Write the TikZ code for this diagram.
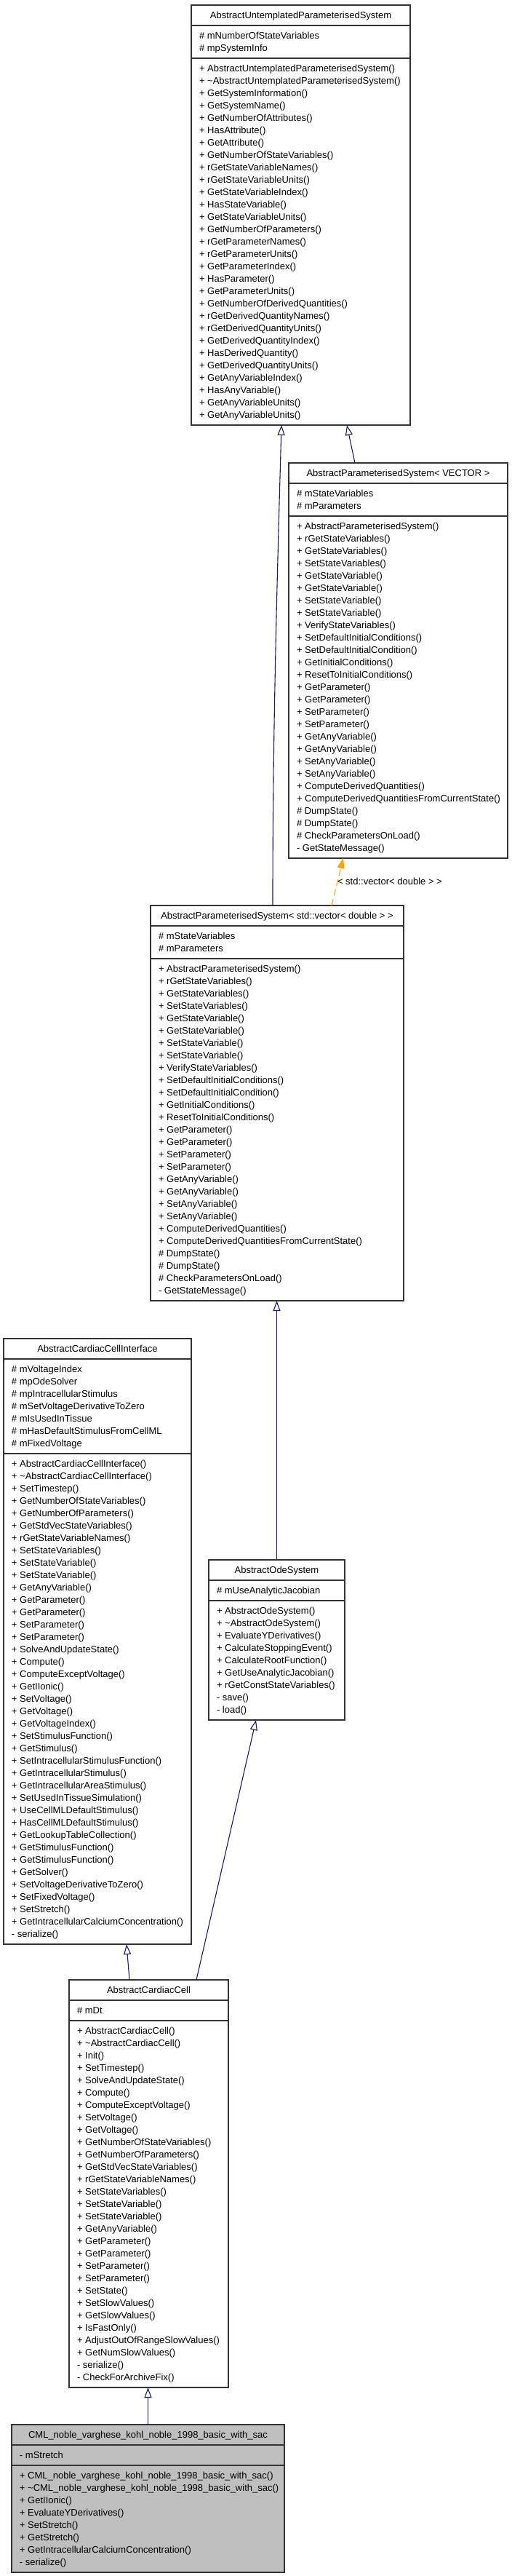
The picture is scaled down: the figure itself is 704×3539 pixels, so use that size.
\documentclass[tikz,border=0pt]{standalone}
\usepackage{fontspec}
\setmainfont{Liberation Sans}
\usetikzlibrary{calc,arrows.meta}
\definecolor{edgeblue}{HTML}{191970}
\definecolor{tmplorange}{HTML}{FFA500}
\definecolor{nodegray}{HTML}{BFBFBF}
\newcount\umlna
\newcount\umlnm
\newcommand{\umlcount}[2]{\global#1=0\relax\foreach \umlitem in {#2}{\global\advance#1 by 1\relax}}
\newcommand{\umlbox}[8]{%
  \umlcount\umlna{#7}\umlcount\umlnm{#8}%
  \pgfmathsetmacro\umlha{17*\the\umlna+11}%
  \pgfmathsetmacro\umlhm{17*\the\umlnm+11}%
  \pgfmathsetmacro\umlh{28+\umlha+\umlhm}%
  \node[umlframe, fill=#5, minimum width=#4pt, minimum height=\umlh pt, anchor=north west] (#1) at (#2,#3) {};
  \draw[umlrule] ($(#1.north west)+(0,28)$) -- ($(#1.north east)+(0,28)$);
  \draw[umlrule] ($(#1.north west)+(0,{28+\umlha})$) -- ($(#1.north east)+(0,{28+\umlha})$);
  \node[umltext, anchor=base] (#1-title) at ($(#1.north)+(0,18)$) {#6};
  \foreach \umlitem [count=\k from 0] in {#7} {\node[umltext, anchor=base west] (#1-a\k) at ($(#1.north west)+(11,{46+17*\k})$) {\umlitem};}
  \foreach \umlitem [count=\k from 0] in {#8} {\node[umltext, anchor=base west] (#1-m\k) at ($(#1.north west)+(11,{46+\umlha+17*\k})$) {\umlitem};}
}
\tikzset{
  umlframe/.style={rectangle, draw=black!80, line width=1.2pt, inner sep=0pt, outer sep=0pt},
  umlrule/.style={draw=black!80, line width=1.2pt},
  umltext/.style={inner sep=0pt, outer sep=0pt, font=\fontsize{13}{17}\selectfont, text=black},
  inh/.style={draw=edgeblue, line width=1.1pt, -{Triangle[open, length=14pt, width=10pt]}},
  tmpl/.style={draw=tmplorange, line width=1.1pt, dash pattern=on 9pt off 5pt, -{Triangle[length=14pt, width=10pt, fill=tmplorange]}}
}
\begin{document}
\begin{tikzpicture}[x=1pt,y=-1pt]
\fill[white] (0,0) rectangle (704,3539);
\useasboundingbox (0,0) rectangle (704,3539);

\umlbox{A}{263}{7}{301}{white}{AbstractUntemplatedParameterisedSystem}{%
\# mNumberOfStateVariables,%
\# mpSystemInfo}{%
+ AbstractUntemplatedParameterisedSystem(),%
+ \textasciitilde AbstractUntemplatedParameterisedSystem(),%
+ GetSystemInformation(),%
+ GetSystemName(),%
+ GetNumberOfAttributes(),%
+ HasAttribute(),%
+ GetAttribute(),%
+ GetNumberOfStateVariables(),%
+ rGetStateVariableNames(),%
+ rGetStateVariableUnits(),%
+ GetStateVariableIndex(),%
+ HasStateVariable(),%
+ GetStateVariableUnits(),%
+ GetNumberOfParameters(),%
+ rGetParameterNames(),%
+ rGetParameterUnits(),%
+ GetParameterIndex(),%
+ HasParameter(),%
+ GetParameterUnits(),%
+ GetNumberOfDerivedQuantities(),%
+ rGetDerivedQuantityNames(),%
+ rGetDerivedQuantityUnits(),%
+ GetDerivedQuantityIndex(),%
+ HasDerivedQuantity(),%
+ GetDerivedQuantityUnits(),%
+ GetAnyVariableIndex(),%
+ HasAnyVariable(),%
+ GetAnyVariableUnits(),%
+ GetAnyVariableUnits()}

\umlbox{B}{397}{636}{301}{white}{AbstractParameterisedSystem< VECTOR >}{%
\# mStateVariables,%
\# mParameters}{%
+ AbstractParameterisedSystem(),%
+ rGetStateVariables(),%
+ GetStateVariables(),%
+ SetStateVariables(),%
+ GetStateVariable(),%
+ GetStateVariable(),%
+ SetStateVariable(),%
+ SetStateVariable(),%
+ VerifyStateVariables(),%
+ SetDefaultInitialConditions(),%
+ SetDefaultInitialCondition(),%
+ GetInitialConditions(),%
+ ResetToInitialConditions(),%
+ GetParameter(),%
+ GetParameter(),%
+ SetParameter(),%
+ SetParameter(),%
+ GetAnyVariable(),%
+ GetAnyVariable(),%
+ SetAnyVariable(),%
+ SetAnyVariable(),%
+ ComputeDerivedQuantities(),%
+ ComputeDerivedQuantitiesFromCurrentState(),%
\# DumpState(),%
\# DumpState(),%
\# CheckParametersOnLoad(),%
- GetStateMessage()}

\umlbox{C}{207}{1244}{348}{white}{AbstractParameterisedSystem< std::vector< double > >}{%
\# mStateVariables,%
\# mParameters}{%
+ AbstractParameterisedSystem(),%
+ rGetStateVariables(),%
+ GetStateVariables(),%
+ SetStateVariables(),%
+ GetStateVariable(),%
+ GetStateVariable(),%
+ SetStateVariable(),%
+ SetStateVariable(),%
+ VerifyStateVariables(),%
+ SetDefaultInitialConditions(),%
+ SetDefaultInitialCondition(),%
+ GetInitialConditions(),%
+ ResetToInitialConditions(),%
+ GetParameter(),%
+ GetParameter(),%
+ SetParameter(),%
+ SetParameter(),%
+ GetAnyVariable(),%
+ GetAnyVariable(),%
+ SetAnyVariable(),%
+ SetAnyVariable(),%
+ ComputeDerivedQuantities(),%
+ ComputeDerivedQuantitiesFromCurrentState(),%
\# DumpState(),%
\# DumpState(),%
\# CheckParametersOnLoad(),%
- GetStateMessage()}

\umlbox{D}{5}{1839}{258}{white}{AbstractCardiacCellInterface}{%
\# mVoltageIndex,%
\# mpOdeSolver,%
\# mpIntracellularStimulus,%
\# mSetVoltageDerivativeToZero,%
\# mIsUsedInTissue,%
\# mHasDefaultStimulusFromCellML,%
\# mFixedVoltage}{%
+ AbstractCardiacCellInterface(),%
+ \textasciitilde AbstractCardiacCellInterface(),%
+ SetTimestep(),%
+ GetNumberOfStateVariables(),%
+ GetNumberOfParameters(),%
+ GetStdVecStateVariables(),%
+ rGetStateVariableNames(),%
+ SetStateVariables(),%
+ SetStateVariable(),%
+ SetStateVariable(),%
+ GetAnyVariable(),%
+ GetParameter(),%
+ GetParameter(),%
+ SetParameter(),%
+ SetParameter(),%
+ SolveAndUpdateState(),%
+ Compute(),%
+ ComputeExceptVoltage(),%
+ GetIIonic(),%
+ SetVoltage(),%
+ GetVoltage(),%
+ GetVoltageIndex(),%
+ SetStimulusFunction(),%
+ GetStimulus(),%
+ SetIntracellularStimulusFunction(),%
+ GetIntracellularStimulus(),%
+ GetIntracellularAreaStimulus(),%
+ SetUsedInTissueSimulation(),%
+ UseCellMLDefaultStimulus(),%
+ HasCellMLDefaultStimulus(),%
+ GetLookupTableCollection(),%
+ GetStimulusFunction(),%
+ GetStimulusFunction(),%
+ GetSolver(),%
+ SetVoltageDerivativeToZero(),%
+ SetFixedVoltage(),%
+ SetStretch(),%
+ GetIntracellularCalciumConcentration(),%
- serialize()}

\umlbox{E}{287}{2143}{187}{white}{AbstractOdeSystem}{%
\# mUseAnalyticJacobian}{%
+ AbstractOdeSystem(),%
+ \textasciitilde AbstractOdeSystem(),%
+ EvaluateYDerivatives(),%
+ CalculateStoppingEvent(),%
+ CalculateRootFunction(),%
+ GetUseAnalyticJacobian(),%
+ rGetConstStateVariables(),%
- save(),%
- load()}

\umlbox{F}{95}{2720}{219}{white}{AbstractCardiacCell}{%
\# mDt}{%
+ AbstractCardiacCell(),%
+ \textasciitilde AbstractCardiacCell(),%
+ Init(),%
+ SetTimestep(),%
+ SolveAndUpdateState(),%
+ Compute(),%
+ ComputeExceptVoltage(),%
+ SetVoltage(),%
+ GetVoltage(),%
+ GetNumberOfStateVariables(),%
+ GetNumberOfParameters(),%
+ GetStdVecStateVariables(),%
+ rGetStateVariableNames(),%
+ SetStateVariables(),%
+ SetStateVariable(),%
+ SetStateVariable(),%
+ GetAnyVariable(),%
+ GetParameter(),%
+ GetParameter(),%
+ SetParameter(),%
+ SetParameter(),%
+ SetState(),%
+ SetSlowValues(),%
+ GetSlowValues(),%
+ IsFastOnly(),%
+ AdjustOutOfRangeSlowValues(),%
+ GetNumSlowValues(),%
- serialize(),%
- CheckForArchiveFix()}

\umlbox{G}{16}{3331}{375}{nodegray}{CML\_noble\_varghese\_kohl\_noble\_1998\_basic\_with\_sac}{%
- mStretch}{%
+ CML\_noble\_varghese\_kohl\_noble\_1998\_basic\_with\_sac(),%
+ \textasciitilde CML\_noble\_varghese\_kohl\_noble\_1998\_basic\_with\_sac(),%
+ GetIIonic(),%
+ EvaluateYDerivatives(),%
+ SetStretch(),%
+ GetStretch(),%
+ GetIntracellularCalciumConcentration(),%
- serialize()}

% connectors
\draw[inh] ($(C.north west)+(168,0)$) .. controls ($(C.north west)+(168,-244)$) and ($(A.south west)+(118,216)$) .. ($(A.south west)+(124,0)$);
\draw[inh] ($(B.north west)+(91,0)$) -- ($(A.south west)+(214,0)$);
\draw[tmpl] ($(C.north west)+(249,0)$) -- ($(B.south west)+(75,0)$);
\node[umltext, anchor=base west] (tmpllabel) at (464,1215) {< std::vector< double > >};
\draw[inh] (E.north) -- (E.north |- C.south);
\draw[inh] ($(F.north west)+(83,0)$) -- ($(D.south west)+(169,0)$);
\draw[inh] ($(F.north west)+(175,0)$) -- ($(E.south west)+(65,0)$);
\draw[inh] (G.north) -- (G.north |- F.south);
\end{tikzpicture}
\end{document}
